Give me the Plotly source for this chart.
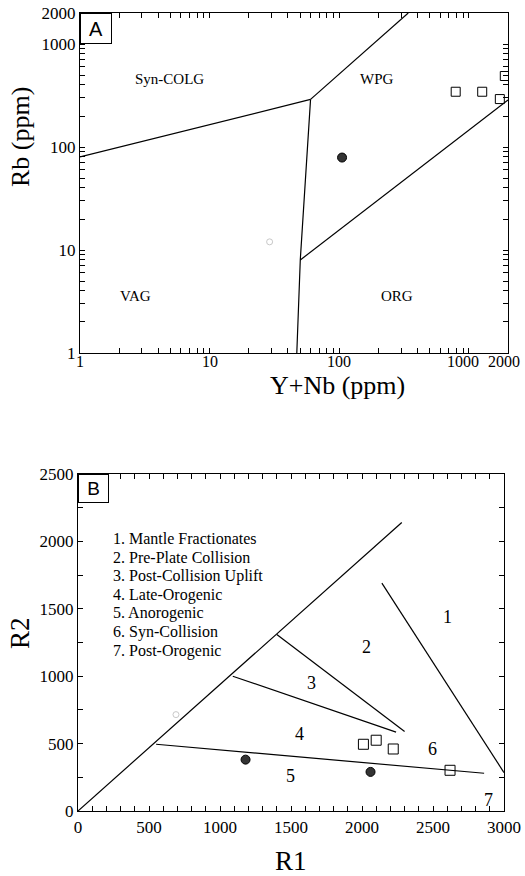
import math
import plotly.graph_objects as go

# ---------------- Panel A data (Pearce diagram) ----------------
ynb_circle = [105]
rb_circle = [79]
ynb_square = [790, 1265, 1730, 1890]
rb_square = [344, 344, 292, 489]
ynb_faint = [29]
rb_faint = [12]

# boundary lines
colg_vag_x = [1, 60]
colg_vag_y = [80, 290]
colg_wpg_x = [60, 340]
colg_wpg_y = [290, 2000]
vag_wpg_x = [60, 50, 47]
vag_wpg_y = [290, 8, 1]
wpg_org_x = [50, 2000]
wpg_org_y = [8, 286]

regionA_text = ["Syn-COLG", "WPG", "VAG", "ORG"]
regionA_x = [4.9, 197, 2.7, 281]
regionA_y = [457, 457, 3.6, 3.6]

# ---------------- Panel B data (R1-R2 diagram) ----------------
r1_circle = [1180, 2060]
r2_circle = [381, 290]
r1_square = [2010, 2100, 2220, 2620]
r2_square = [495, 525, 460, 302]
r1_faint = [690]
r2_faint = [715]

diag_x = [0, 2280]
diag_y = [0, 2140]
b23_x = [1400, 2300]
b23_y = [1310, 590]
b34_x = [1090, 2240]
b34_y = [1000, 585]
b1_x = [2140, 3000]
b1_y = [1690, 285]
b45_x = [550, 2860]
b45_y = [495, 280]

regionB_text = ["1", "2", "3", "4", "5", "6", "7"]
regionB_x = [2600, 2030, 1643, 1561, 1498, 2493, 2894]
regionB_y = [1442, 1217, 950, 574, 257, 463, 85]

legend_lines = ["1. Mantle Fractionates", "2. Pre-Plate Collision",
                "3. Post-Collision Uplift", "4. Late-Orogenic",
                "5. Anorogenic", "6. Syn-Collision", "7. Post-Orogenic"]

xA_ticks = [m * 10 ** e for e in range(3) for m in range(1, 10)] + [1000, 2000]
xA_label_vals = [1, 10, 100, 1000, 2000]
xA_label_text = ["1", "10", "100", "1000", "2000"]
yA_ticks = xA_ticks
yA_labels = {1: "1", 10: "10", 100: "100", 1000: "1000", 2000: "2000"}

xB_ticks = list(range(0, 3001, 100))
yB_ticks = list(range(0, 2501, 250))

FONT = "Liberation Serif, Times New Roman, serif"
W, H = 525, 876

def px(x):
    return x / W

def py(y):
    return 1 - y / H

fig = go.Figure()
line_style = dict(color="black", width=1.2)

for lx, ly in [(colg_vag_x, colg_vag_y), (colg_wpg_x, colg_wpg_y),
               (vag_wpg_x, vag_wpg_y), (wpg_org_x, wpg_org_y)]:
    fig.add_trace(go.Scatter(x=lx, y=ly, mode="lines", line=line_style,
                             xaxis="x", yaxis="y", showlegend=False, hoverinfo="skip"))

fig.add_trace(go.Scatter(x=ynb_circle, y=rb_circle, mode="markers",
                         marker=dict(symbol="circle", size=9, color="#333333",
                                     line=dict(color="black", width=1)),
                         xaxis="x", yaxis="y", showlegend=False))
fig.add_trace(go.Scatter(x=ynb_square, y=rb_square, mode="markers",
                         marker=dict(symbol="square-open", size=9, color="black",
                                     line=dict(width=1)),
                         xaxis="x", yaxis="y", showlegend=False))
fig.add_trace(go.Scatter(x=ynb_faint, y=rb_faint, mode="markers",
                         marker=dict(symbol="circle-open", size=6, color="#c8c8c8",
                                     line=dict(width=1)),
                         xaxis="x", yaxis="y", showlegend=False))

for lx, ly in [(diag_x, diag_y), (b23_x, b23_y), (b34_x, b34_y),
               (b1_x, b1_y), (b45_x, b45_y)]:
    fig.add_trace(go.Scatter(x=lx, y=ly, mode="lines", line=line_style,
                             xaxis="x2", yaxis="y2", showlegend=False, hoverinfo="skip"))

fig.add_trace(go.Scatter(x=r1_circle, y=r2_circle, mode="markers",
                         marker=dict(symbol="circle", size=9, color="#333333",
                                     line=dict(color="black", width=1)),
                         xaxis="x2", yaxis="y2", showlegend=False))
fig.add_trace(go.Scatter(x=r1_square, y=r2_square, mode="markers",
                         marker=dict(symbol="square-open", size=10, color="black",
                                     line=dict(width=1)),
                         xaxis="x2", yaxis="y2", showlegend=False))
fig.add_trace(go.Scatter(x=r1_faint, y=r2_faint, mode="markers",
                         marker=dict(symbol="circle-open", size=6, color="#c8c8c8",
                                     line=dict(width=1)),
                         xaxis="x2", yaxis="y2", showlegend=False))

axis_common = dict(showline=True, linecolor="black", linewidth=1.3, mirror="ticks",
                   ticks="inside", ticklen=5, tickcolor="black", tickwidth=1,
                   showgrid=False, zeroline=False, automargin=False,
                   tickfont=dict(family=FONT, size=17, color="black"))

annotations = []
# annotations on log axes take log10 coordinates
for t, x, y in zip(regionA_text, regionA_x, regionA_y):
    annotations.append(dict(x=math.log10(x), y=math.log10(y), xref="x", yref="y", text=t,
                            showarrow=False, font=dict(family=FONT, size=15, color="black")))
for t, x, y in zip(regionB_text, regionB_x, regionB_y):
    annotations.append(dict(x=x, y=y, xref="x2", yref="y2", text=t,
                            showarrow=False, font=dict(family=FONT, size=18, color="black")))
for i, t in enumerate(legend_lines):
    annotations.append(dict(x=235, y=2021 - i * 138.7, xref="x2", yref="y2", text=t,
                            xanchor="left", showarrow=False,
                            font=dict(family=FONT, size=16, color="black")))

# top-panel x tick labels (placed close to the axis as in the original)
shifts = {1000: -6, 2000: -4}
for v, t in zip(xA_label_vals, xA_label_text):
    annotations.append(dict(x=math.log10(v), y=py(361), xref="x", yref="paper", text=t,
                            xanchor="center", yanchor="middle", showarrow=False,
                            xshift=shifts.get(v, 0),
                            font=dict(family=FONT, size=16, color="black")))

# panel letters
annotations.append(dict(x=px(80), y=py(13), xref="paper", yref="paper", text="A",
                        xanchor="left", yanchor="top", showarrow=False, width=28, height=27,
                        bordercolor="black", borderwidth=1, bgcolor="white",
                        font=dict(family="Liberation Sans, Arial, sans-serif", size=20, color="black")))
annotations.append(dict(x=px(78), y=py(474), xref="paper", yref="paper", text="B",
                        xanchor="left", yanchor="top", showarrow=False, width=27, height=25,
                        bordercolor="black", borderwidth=1, bgcolor="white",
                        font=dict(family="Liberation Sans, Arial, sans-serif", size=19, color="black")))

# axis titles
title_font = dict(family=FONT, size=26, color="black")
annotations.append(dict(x=px(20), y=py(137), xref="paper", yref="paper", text="Rb (ppm)",
                        textangle=-90, showarrow=False, xanchor="center", yanchor="middle",
                        font=title_font))
annotations.append(dict(x=px(337), y=py(385), xref="paper", yref="paper", text="Y+Nb (ppm)",
                        showarrow=False, xanchor="center", yanchor="middle", font=title_font))
annotations.append(dict(x=px(20), y=py(633), xref="paper", yref="paper", text="R2",
                        textangle=-90, showarrow=False, xanchor="center", yanchor="middle",
                        font=dict(family=FONT, size=27, color="black")))
annotations.append(dict(x=px(291), y=py(861), xref="paper", yref="paper", text="R1",
                        showarrow=False, xanchor="center", yanchor="middle",
                        font=dict(family=FONT, size=27, color="black")))

fig.update_layout(
    width=W, height=H,
    margin=dict(l=0, r=0, t=0, b=0, pad=0),
    paper_bgcolor="white", plot_bgcolor="white",
    showlegend=False,
    xaxis=dict(axis_common, type="log", range=[0, 3.30103],
               domain=[px(80), px(508)], anchor="y",
               tickvals=xA_ticks, ticktext=["" for v in xA_ticks]),
    yaxis=dict(axis_common, type="log", range=[0, 3.30103],
               domain=[py(353), py(13)], anchor="x",
               tickvals=yA_ticks, ticktext=[yA_labels.get(v, "") for v in yA_ticks]),
    xaxis2=dict(axis_common, range=[0, 3000], domain=[px(78), px(504)], anchor="y2",
                tickvals=xB_ticks,
                ticktext=[str(v) if v % 500 == 0 else "" for v in xB_ticks]),
    yaxis2=dict(axis_common, range=[0, 2500], domain=[py(811), py(474)], anchor="x2",
                tickvals=yB_ticks,
                ticktext=[str(v) if v % 500 == 0 else "" for v in yB_ticks]),
    annotations=annotations,
)

fig.write_html("out.html")
